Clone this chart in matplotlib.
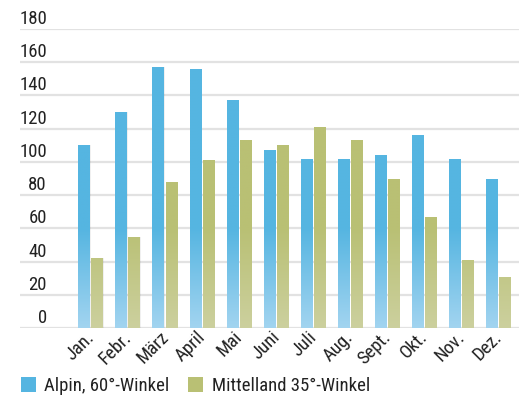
import numpy as np
import matplotlib
matplotlib.use('Agg')
import matplotlib.pyplot as plt
from matplotlib.colors import LinearSegmentedColormap
from matplotlib.patches import Patch, Rectangle
from matplotlib.transforms import offset_copy

months = ['Jan.', 'Febr.', 'März', 'April', 'Mai', 'Juni', 'Juli', 'Aug.',
          'Sept.', 'Okt.', 'Nov.', 'Dez.']
alpin = [110, 130, 157, 156, 137, 107, 102, 102, 104, 116, 102, 90]
mittelland = [42, 55, 88, 101, 113, 110, 121, 113, 90, 67, 41, 31]
yticks = [0, 20, 40, 60, 80, 100, 120, 140, 160, 180]
series_names = ['Alpin, 60°-Winkel', 'Mittelland 35°-Winkel']

blue = '#55b5e1'
blue_light = '#a2d4f0'
green = '#b9c074'
green_light = '#ccd09e'
grid_col = '#e2e2e2'
text_col = '#222222'

plt.rcParams['font.family'] = ['Roboto Condensed', 'DejaVu Sans']

fig = plt.figure(figsize=(5.23, 3.97), dpi=100)
ax = fig.add_axes([20 / 523, 69 / 397, 499 / 523, 299 / 397])
ax.set_xlim(-1.905, 11.58)
ax.set_ylim(0, 180)
ax.axis('off')

# horizontal grid lines incl. the baseline, values sit just above each line
ylab_tr = offset_copy(ax.get_yaxis_transform(), fig, y=1, units='dots')
for t in yticks:
    ax.axhline(t, color=grid_col, lw=1.6, zorder=0)
    ax.text(0.054, t, str(t), transform=ylab_tr,
            ha='right', va='bottom', fontsize=13.5, color=text_col)

w = 11 / 37
gap = 2 / 37
x = np.arange(len(months))
xb = x - (w + gap) / 2
xg = x + (w + gap) / 2


def gradient_bars(xs, vals, top, bottom):
    # colour fades lighter over the lower part of the axis
    cmap = LinearSegmentedColormap.from_list('g', [bottom, top])
    yy = np.linspace(0, 180, 400)
    grad = np.clip(yy / 60, 0, 1)[:, None]
    bars = ax.bar(xs, vals, width=w, color='none', edgecolor='none', zorder=2)
    for b in bars:
        # soft shadow to the right
        sh = Rectangle((b.get_x() + 0.03, 0), b.get_width(), b.get_height(),
                       facecolor='#000000', alpha=0.06, edgecolor='none', zorder=1)
        ax.add_patch(sh)
        im = ax.imshow(grad, cmap=cmap, origin='lower', aspect='auto',
                       extent=[b.get_x(), b.get_x() + b.get_width(), 0, 180],
                       vmin=0, vmax=1, zorder=2)
        im.set_clip_path(b)
    return bars


gradient_bars(xb, alpin, blue, blue_light)
gradient_bars(xg, mittelland, green, green_light)
ax.set_xlim(-1.905, 11.58)
ax.set_ylim(0, 180)

# rotated month labels under each pair
lab_tr = offset_copy(ax.transData, fig, x=-5, y=0, units='dots')
for xi, m in zip(x, months):
    ax.text(xi, 0, m, transform=lab_tr, rotation=45, rotation_mode='anchor',
            ha='right', va='top', fontsize=13.5, color=text_col, clip_on=False)

handles = [Patch(facecolor=blue, edgecolor='none'), Patch(facecolor=green, edgecolor='none')]
fig.legend(handles, series_names, loc='lower left', bbox_to_anchor=(21 / 523, 2 / 397),
           ncol=2, frameon=False, fontsize=13.5, handlelength=0.8, handleheight=0.8,
           handletextpad=0.45, columnspacing=1.0, borderaxespad=0, borderpad=0,
           labelcolor=text_col)

fig.savefig('out.png', dpi=100)
